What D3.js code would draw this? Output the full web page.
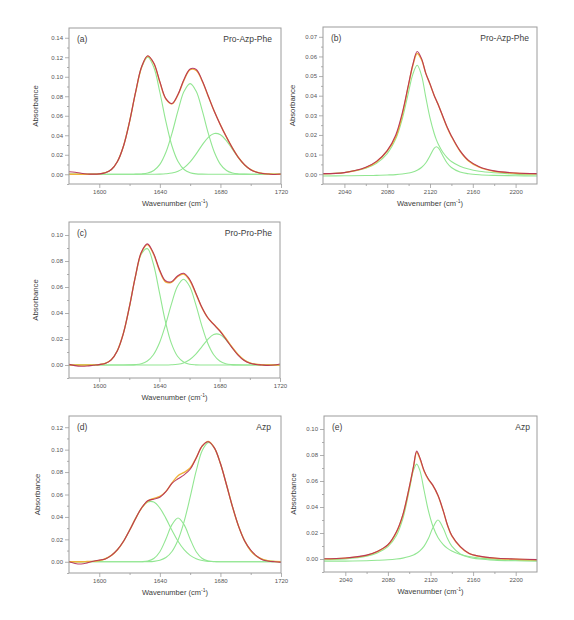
<!DOCTYPE html>
<html>
<head>
<meta charset="utf-8">
<script src="https://cdn.jsdelivr.net/npm/d3@7"></script>
<style>
html,body{margin:0;padding:0;background:#fff;}
svg{display:block;font-family:"Liberation Sans",Arial,sans-serif;}
</style>
</head>
<body>
<svg id="chart" width="574" height="620"></svg>
<script>
// ---------- DATA ----------
// Amide I region grid (cm-1)
const amideGrid = [1580,1584,1588,1592,1596,1600,1604,1608,1612,1616,1620,1624,1628,1632,1636,1640,1644,1648,1652,1656,1660,1664,1668,1672,1676,1680,1684,1688,1692,1696,1700,1704,1708,1712,1716,1720];
// Azide region grids (cm-1)
const azideGridB = [2020,2040,2060,2070,2080,2088,2094,2100,2104,2108,2112,2116,2120,2124,2126,2128,2132,2136,2140,2148,2156,2166,2180,2200,2220];
const azideGridE = [2020,2040,2060,2070,2080,2088,2094,2100,2104,2107,2110,2114,2118,2122,2127,2132,2136,2140,2148,2156,2166,2180,2200,2220];

// (a) Pro-Azp-Phe amide I
const aSpectrum = [0.0025,0.002,0.001,0.0003,0.0001,0.0004,0.0016,0.0049,0.0131,0.029,0.054,0.0845,0.1105,0.1215,0.1140,0.0950,0.0775,0.0725,0.0820,0.0975,0.1080,0.1075,0.0960,0.0800,0.0643,0.0506,0.0381,0.0267,0.0169,0.0096,0.0047,0.0021,0.0008,0.0002,-0.0002,0.0003];
const aFit      = [0,0,0,0,0.0001,0.0004,0.0016,0.0049,0.0131,0.029,0.054,0.0842,0.1101,0.1212,0.1136,0.0943,0.077,0.0722,0.0815,0.0968,0.1073,0.1064,0.0954,0.0798,0.0643,0.0506,0.0381,0.0267,0.0169,0.0096,0.0047,0.0021,0.0008,0.0003,0.0001,0];
const aPeak1    = [0,0,0,0,0.0001,0.0004,0.0016,0.0049,0.0131,0.029,0.054,0.0841,0.1098,0.12,0.1098,0.0841,0.054,0.029,0.0131,0.0049,0.0016,0.0004,0.0001,0,0,0,0,0,0,0,0,0,0,0,0,0];
const aPeak2    = [0,0,0,0,0,0,0,0,0,0,0,0.0001,0.0003,0.0012,0.0038,0.0101,0.0225,0.0419,0.0652,0.0851,0.093,0.0851,0.0652,0.0419,0.0225,0.0101,0.0038,0.0012,0.0003,0.0001,0,0,0,0,0,0];
const aPeak3    = [0,0,0,0,0,0,0,0,0,0,0,0,0,0,0,0.0001,0.0005,0.0013,0.0032,0.0068,0.0127,0.0209,0.0301,0.0379,0.0418,0.0405,0.0343,0.0255,0.0166,0.0095,0.0047,0.0021,0.0008,0.0003,0.0001,0];

// (b) Pro-Azp-Phe azide
const bSpectrum = [0.0003,0.0008,0.0035,0.0065,0.012,0.020,0.031,0.046,0.056,0.0625,0.059,0.0515,0.046,0.040,0.0375,0.035,0.0295,0.024,0.0195,0.012,0.007,0.0038,0.0017,0.0006,0.0003];
const bFit      = [0.0002,0.0008,0.0033,0.0063,0.0118,0.019,0.030,0.0455,0.0555,0.0615,0.0585,0.0515,0.0458,0.040,0.0375,0.035,0.0293,0.0238,0.0193,0.0118,0.0068,0.0036,0.0015,0.0005,0.0002];
const bPeak1    = [0.0001,0.0009,0.003,0.0055,0.0105,0.018,0.028,0.042,0.051,0.0555,0.0505,0.0394,0.0287,0.0206,0.0175,0.015,0.0112,0.0085,0.0065,0.0041,0.0026,0.0015,0.0007,0,-0.0003];
const bPeak2    = [-0.0009,-0.0008,-0.0007,-0.0006,-0.0004,-0.0002,0.0001,0.0006,0.0011,0.002,0.0034,0.0057,0.0094,0.0133,0.014,0.0133,0.0094,0.0057,0.0034,0.0011,0.0002,-0.0003,-0.0006,-0.0008,-0.0009];

// (c) Pro-Pro-Phe amide I
const cSpectrum = [0.0005,-0.0005,-0.001,-0.0008,-0.0002,0.0003,0.0012,0.004,0.0108,0.024,0.0443,0.0678,0.0868,0.0932,0.0862,0.0735,0.0648,0.0640,0.0685,0.0706,0.0660,0.0558,0.0448,0.0365,0.0312,0.0262,0.0200,0.0136,0.0078,0.0036,0.0013,0.0004,0.0,-0.0003,0.0,0.0008];
const cFit      = [0,0,0,0,0.0001,0.0003,0.0012,0.004,0.0108,0.024,0.0443,0.0678,0.0864,0.0926,0.0856,0.0728,0.064,0.0636,0.0679,0.0699,0.0652,0.0552,0.0445,0.0365,0.0314,0.0266,0.0206,0.0141,0.0082,0.004,0.0016,0.0006,0.0002,0,0,0];
const cPeak1    = [0,0,0,0,0.0001,0.0003,0.0012,0.004,0.0108,0.024,0.0442,0.0675,0.0854,0.0895,0.0777,0.0559,0.0333,0.0164,0.0067,0.0023,0.0006,0.0001,0,0,0,0,0,0,0,0,0,0,0,0,0,0];
const cPeak2    = [0,0,0,0,0,0,0,0,0,0,0.0001,0.0003,0.001,0.0031,0.0079,0.0169,0.0307,0.047,0.0606,0.066,0.0606,0.047,0.0307,0.0169,0.0079,0.0031,0.001,0.0003,0.0001,0,0,0,0,0,0,0];
const cPeak3    = [0,0,0,0,0,0,0,0,0,0,0,0,0,0,0,0,0,0.0002,0.0006,0.0016,0.004,0.0081,0.0138,0.0196,0.0235,0.0235,0.0196,0.0138,0.0081,0.004,0.0016,0.0006,0.0002,0,0,0];

// (d) Azp amide I
const dSpectrum = [0,-0.0015,-0.002,-0.001,0.0004,0.0015,0.0025,0.0057,0.0108,0.0183,0.0281,0.0387,0.0482,0.0545,0.0558,0.0575,0.0625,0.0700,0.0740,0.0775,0.0825,0.0925,0.1033,0.1070,0.1016,0.0876,0.0687,0.0489,0.0316,0.0186,0.0105,0.005,0.0015,0.0005,0,-0.0005];
const dFit      = [0,0,0,0.0002,0.0004,0.0011,0.0027,0.0057,0.0108,0.0183,0.0281,0.0387,0.048,0.0541,0.0566,0.0583,0.0628,0.0704,0.0767,0.0797,0.0836,0.0927,0.1033,0.1074,0.1016,0.0876,0.0687,0.0489,0.0316,0.0186,0.0099,0.0048,0.0021,0.0008,0.0003,0.0001];
const dPeak1    = [0,0,0,0.0002,0.0004,0.0011,0.0027,0.0057,0.0108,0.0183,0.0281,0.0387,0.0479,0.0533,0.0533,0.0479,0.0387,0.0281,0.0183,0.0108,0.0057,0.0027,0.0011,0.0004,0.0002,0,0,0,0,0,0,0,0,0,0,0];
const dPeak2    = [0,0,0,0,0,0,0,0,0,0,0,0,0.0001,0.0007,0.0029,0.009,0.0203,0.0331,0.039,0.0331,0.0203,0.009,0.0029,0.0007,0.0001,0,0,0,0,0,0,0,0,0,0,0];
const dPeak3    = [0,0,0,0,0,0,0,0,0,0,0,0,0,0.0001,0.0004,0.0014,0.0038,0.0092,0.0194,0.0358,0.0576,0.081,0.0993,0.1063,0.1013,0.0876,0.0687,0.0489,0.0316,0.0186,0.0099,0.0048,0.0021,0.0008,0.0003,0.0001];

// (e) Azp azide
const eSpectrum = [0.0002,0.0008,0.003,0.0058,0.011,0.021,0.034,0.055,0.071,0.083,0.078,0.068,0.0615,0.057,0.049,0.037,0.026,0.018,0.0095,0.0045,0.0022,0.0008,0.0,-0.0005];
const eFit      = [0.0001,0.0007,0.0028,0.0056,0.0107,0.0205,0.0335,0.0545,0.0705,0.082,0.0772,0.0675,0.0612,0.0568,0.0488,0.0368,0.0258,0.0178,0.0093,0.0043,0.002,0.0006,-0.0002,-0.0006];
const ePeak1    = [-0.0007,0.0001,0.0022,0.0046,0.0095,0.0181,0.0309,0.0527,0.0682,0.073,0.0682,0.0527,0.0372,0.0258,0.0166,0.0111,0.0082,0.0061,0.0035,0.0019,0.0007,-0.0002,-0.0009,-0.0012];
const ePeak2    = [-0.0017,-0.0016,-0.0013,-0.001,-0.0006,0.0,0.0007,0.0019,0.0031,0.0044,0.0062,0.0099,0.0157,0.0236,0.030,0.0236,0.0157,0.0099,0.0039,0.0014,0.0,-0.0009,-0.0014,-0.0016];

// tick labels
const amideTicks = [1600,1640,1680,1720];
const amideMinor = [1620,1660,1700];
const azideTicks = [2040,2080,2120,2160,2200];
const azideMinor = [2060,2100,2140,2180];
const yTicksA = [0,0.02,0.04,0.06,0.08,0.10,0.12,0.14];
const yTicksB = [0,0.01,0.02,0.03,0.04,0.05,0.06,0.07];
const yTicksC = [0,0.02,0.04,0.06,0.08,0.10];
const yTicksD = [0,0.02,0.04,0.06,0.08,0.10,0.12];
const yTicksE = [0,0.02,0.04,0.06,0.08,0.10];

// ---------- LAYOUT / STYLE ----------
const colors = {spectrum:"#b42a58", fit:"#efb23a", peak:"#92e692", frame:"#9c9c9c", text:"#3c3c3c", tick:"#555"};

const panels = [
  {tag:"(a)", name:"Pro-Azp-Phe", x0:69, x1:281, y0:28, y1:184, xd:[1580,1720], yd:[-0.01,0.15],
   grid:amideGrid, spec:aSpectrum, fit:aFit, peaks:[aPeak1,aPeak2,aPeak3],
   xt:amideTicks, xm:amideMinor, yt:yTicksA, ylabX:38, nameDx:9},
  {tag:"(b)", name:"Pro-Azp-Phe", x0:323, x1:537, y0:27, y1:184, xd:[2020,2220], yd:[-0.005,0.075],
   grid:azideGridB, spec:bSpectrum, fit:bFit, peaks:[bPeak1,bPeak2],
   xt:azideTicks, xm:azideMinor, yt:yTicksB, ylabX:295, nameDx:8},
  {tag:"(c)", name:"Pro-Pro-Phe", x0:69, x1:280, y0:222, y1:378, xd:[1580,1720], yd:[-0.01,0.11],
   grid:amideGrid, spec:cSpectrum, fit:cFit, peaks:[cPeak1,cPeak2,cPeak3],
   xt:amideTicks, xm:amideMinor, yt:yTicksC, ylabX:38, nameDx:8},
  {tag:"(d)", name:"Azp", x0:69, x1:281, y0:416, y1:573, xd:[1580,1720], yd:[-0.01,0.13],
   grid:amideGrid, spec:dSpectrum, fit:dFit, peaks:[dPeak1,dPeak2,dPeak3],
   xt:amideTicks, xm:amideMinor, yt:yTicksD, ylabX:40, nameDx:10},
  {tag:"(e)", name:"Azp", x0:324, x1:537, y0:416, y1:572, xd:[2020,2220], yd:[-0.01,0.11],
   grid:azideGridE, spec:eSpectrum, fit:eFit, peaks:[ePeak1,ePeak2],
   xt:azideTicks, xm:azideMinor, yt:yTicksE, ylabX:296, nameDx:7}
];

const svg = d3.select("#chart");
const fmtY = d3.format(".2f");

panels.forEach((p, i) => {
  const x = d3.scaleLinear().domain(p.xd).range([p.x0, p.x1]);
  const y = d3.scaleLinear().domain(p.yd).range([p.y1, p.y0]);
  const g = svg.append("g");
  const clipId = "clip" + i;
  svg.append("clipPath").attr("id", clipId).append("rect")
     .attr("x", p.x0).attr("y", p.y0).attr("width", p.x1 - p.x0).attr("height", p.y1 - p.y0);

  const line = d3.line().x(d => x(d[0])).y(d => y(d[1])).curve(d3.curveCatmullRom.alpha(0.5));
  const pts = arr => p.grid.map((w, k) => [w, arr[k]]);

  const plot = g.append("g").attr("clip-path", `url(#${clipId})`);
  p.peaks.forEach(pk => {
    plot.append("path").attr("d", line(pts(pk))).attr("fill", "none")
      .attr("stroke", colors.peak).attr("stroke-width", 1.1);
  });
  plot.append("path").attr("d", line(pts(p.fit))).attr("fill", "none")
    .attr("stroke", colors.fit).attr("stroke-width", 1.4);
  plot.append("path").attr("d", line(pts(p.spec))).attr("fill", "none")
    .attr("stroke", colors.spectrum).attr("stroke-width", 1.1).attr("stroke-opacity", 0.9);

  // axes
  const minorY = [];
  const step = p.yt[1] - p.yt[0];
  for (let k = 0; k < p.yt.length; k++) {
    const v = p.yt[k] + step / 2;
    if (v < p.yd[1]) minorY.push(+v.toFixed(4));
  }
  minorY.push(+(p.yt[0] - step / 2).toFixed(4));

  const yAxis = g.append("g").attr("transform", `translate(${p.x0},0)`)
    .call(d3.axisLeft(y).tickValues(p.yt).tickFormat(fmtY).tickSize(4).tickPadding(2));
  const yMinor = g.append("g").attr("transform", `translate(${p.x0},0)`)
    .call(d3.axisLeft(y).tickValues(minorY.filter(v => v >= p.yd[0] && v <= p.yd[1])).tickFormat("").tickSize(2));
  const xAxis = g.append("g").attr("transform", `translate(0,${p.y1})`)
    .call(d3.axisBottom(x).tickValues(p.xt).tickFormat(d3.format("d")).tickSize(4).tickPadding(2));
  const xMinor = g.append("g").attr("transform", `translate(0,${p.y1})`)
    .call(d3.axisBottom(x).tickValues(p.xm).tickFormat("").tickSize(2));

  [yAxis, yMinor, xAxis, xMinor].forEach(a => {
    a.select(".domain").remove();
    a.selectAll(".tick line").attr("stroke", colors.frame).attr("stroke-width", 0.8);
    a.selectAll(".tick text").attr("fill", colors.tick).style("font-size", "6px");
  });

  // frame
  g.append("rect").attr("x", p.x0).attr("y", p.y0).attr("width", p.x1 - p.x0).attr("height", p.y1 - p.y0)
    .attr("fill", "none").attr("stroke", colors.frame).attr("stroke-width", 1);

  // titles
  const xt = g.append("text").attr("x", (p.x0 + p.x1) / 2).attr("y", p.y1 + 22)
    .attr("text-anchor", "middle").attr("fill", colors.text).style("font-size", "7.5px");
  xt.append("tspan").text("Wavenumber (cm");
  xt.append("tspan").text("-1").attr("dy", -3).style("font-size", "5px");
  xt.append("tspan").text(")").attr("dy", 3);

  g.append("text").attr("transform", `translate(${p.ylabX},${(p.y0 + p.y1) / 2}) rotate(-90)`)
    .attr("text-anchor", "middle").attr("fill", colors.text).style("font-size", "7.8px").text("Absorbance");

  g.append("text").attr("x", p.x0 + 8).attr("y", p.y0 + 14).attr("fill", colors.text)
    .style("font-size", "8.5px").text(p.tag);
  g.append("text").attr("x", p.x1 - p.nameDx).attr("y", p.y0 + 14).attr("text-anchor", "end")
    .attr("fill", colors.text).style("font-size", "8.5px").text(p.name);
});
</script>
</body>
</html>
